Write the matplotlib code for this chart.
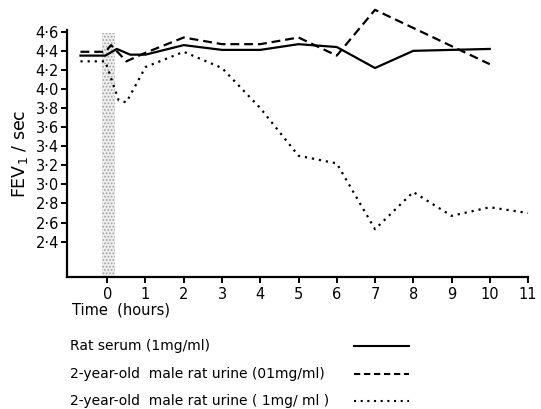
import matplotlib
matplotlib.use('Agg')
import matplotlib.pyplot as plt
from matplotlib.lines import Line2D

# data (time in hours, FEV1 in l/sec)
serum_t = [-0.7, -0.05, 0.25, 0.6, 1, 2, 3, 4, 5, 6, 7, 8, 9, 10]
serum_fev = [4.35, 4.35, 4.42, 4.36, 4.36, 4.46, 4.41, 4.41, 4.47, 4.44, 4.22, 4.40, 4.41, 4.42]

urine01_t = [-0.7, -0.05, 0.1, 0.5, 1, 2, 3, 4, 5, 6, 7, 8, 9, 10]
urine01_fev = [4.39, 4.39, 4.46, 4.29, 4.38, 4.54, 4.47, 4.47, 4.54, 4.35, 4.83, 4.64, 4.45, 4.26]

urine1_t = [-0.7, -0.05, 0.3, 0.5, 1, 2, 3, 4, 5, 6, 7, 8, 9, 10, 11]
urine1_fev = [4.29, 4.29, 3.88, 3.86, 4.23, 4.39, 4.22, 3.80, 3.30, 3.22, 2.53, 2.92, 2.67, 2.76, 2.70]

yticks = [2.4, 2.6, 2.8, 3.0, 3.2, 3.4, 3.6, 3.8, 4.0, 4.2, 4.4, 4.6]
xticks = list(range(0, 12))

labels = ['Rat serum (1mg/ml)',
          '2-year-old  male rat urine (01mg/ml)',
          '2-year-old  male rat urine ( 1mg/ ml )']

plt.rcParams['font.family'] = 'DejaVu Sans'
plt.rcParams['hatch.linewidth'] = 0.8
plt.rcParams['hatch.color'] = '#a0a0a0'
fig = plt.figure(figsize=(5.41, 4.09), dpi=100)
ax = fig.add_axes([0.124, 0.323, 0.852, 0.604])

# exposure period (stippled band)
ax.fill_betweenx([2.03, 4.59], -0.13, 0.2, facecolor='#eeeeee', edgecolor='#a0a0a0',
                 linewidth=0, hatch='.....', zorder=1)

ax.plot(serum_t, serum_fev, color='black', lw=1.6, zorder=3, clip_on=False)
ax.plot(urine01_t, urine01_fev, color='black', lw=1.6, dashes=(4, 2.2), zorder=3, clip_on=False)
ax.plot(urine1_t, urine1_fev, color='black', lw=1.6, dashes=(1, 2.2), zorder=3, clip_on=False)

ax.set_xlim(-1.05, 11.0)
ax.set_ylim(2.03, 4.62)
ax.set_yticks(yticks)
ax.set_yticklabels([f'{v:.1f}'.replace('.', '·') for v in yticks], fontsize=10.5)
ax.set_xticks(xticks)
ax.set_xticklabels([str(v) for v in xticks], fontsize=10.5)
ax.spines['top'].set_visible(False)
ax.spines['right'].set_visible(False)
ax.spines['left'].set_linewidth(1.6)
ax.spines['bottom'].set_linewidth(1.6)
ax.tick_params(axis='both', direction='out', length=4, width=1.4, pad=2)
ax.tick_params(axis='x', pad=3)
ax.set_ylabel('FEV$_1$ / sec', fontsize=12.5, labelpad=4)

fig.text(0.133, 0.242, 'Time  (hours)', fontsize=10.5, va='center', ha='left')

# legend below the plot
ys = [0.153, 0.085, 0.02]
styles = [dict(), dict(dashes=(3, 1.8)), dict(dashes=(1, 2.2))]
for y, lab, st in zip(ys, labels, styles):
    fig.text(0.13, y, lab, fontsize=10, va='center', ha='left')
    fig.add_artist(Line2D([0.655, 0.756], [y, y], color='black', lw=1.5, **st))

fig.savefig('out.png', dpi=100)
